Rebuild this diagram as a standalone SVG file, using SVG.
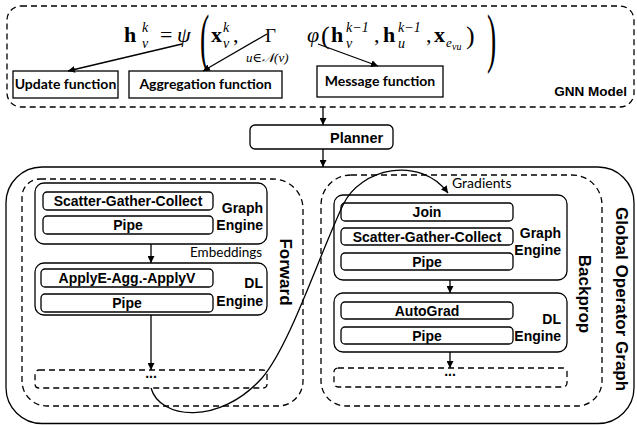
<svg xmlns="http://www.w3.org/2000/svg" width="637" height="425" viewBox="0 0 637 425">
<defs>
<marker id="ah" viewBox="0 0 10 10" refX="10" refY="5" markerWidth="7" markerHeight="7" markerUnits="userSpaceOnUse" orient="auto">
<path d="M0,0 L10,5 L0,10 Z" fill="#000"/>
</marker>
<style>
.box{fill:#fff;stroke:#000;stroke-width:1.3}
.sub{fill:#fff;stroke:#000;stroke-width:1.3}
.dash{fill:none;stroke:#000;stroke-width:1.3;stroke-dasharray:6 4}
.ln{fill:none;stroke:#000;stroke-width:1.3}
.b{font-family:"Liberation Sans",Arial,sans-serif;font-weight:bold;font-size:14px;fill:#000}
.c{text-anchor:middle}
.r{text-anchor:end}
.lb{font-family:Lato,"Liberation Sans",sans-serif;font-weight:bold;font-size:14px;text-anchor:middle}
.lr{font-family:Lato,"Liberation Sans",sans-serif;font-size:14px}
.mb{font-family:"Liberation Serif","DejaVu Serif",serif;font-weight:bold;font-size:22px}
.mi{font-family:"Liberation Serif","DejaVu Serif",serif;font-style:italic;font-size:22px}
.mu{font-family:"Liberation Serif","DejaVu Serif",serif;font-size:22px}
.s{font-family:"Liberation Serif","DejaVu Serif",serif;font-style:italic;font-size:14px}
.rot{font-family:"Liberation Sans",Arial,sans-serif;font-weight:bold;font-size:17px;text-anchor:middle;dominant-baseline:central}
</style>
</defs>

<g id="gnn-model">
<rect class="dash" x="7" y="6" width="627" height="101" rx="14"/>
<text class="b r" x="627" y="96" style="font-size:13.5px">GNN Model</text>
</g>

<g id="formula">
<text class="mb" x="124" y="42">h</text>
<text class="s" x="142" y="32">k</text>
<text class="s" x="142" y="48">v</text>
<text class="mu" x="160" y="42">=</text>
<text class="mi" x="177" y="42">ψ</text>
<text class="mu" transform="translate(200,60) scale(0.42,1)" style="font-size:66px">(</text>
<text class="mb" x="211" y="42">x</text>
<text class="s" x="223" y="32">k</text>
<text class="s" x="223" y="48">v</text>
<text class="mu" x="233" y="42">,</text>
<text class="mu" x="265" y="42" style="font-size:19px">Γ</text>
<text class="s" x="246" y="62" style="font-size:13px">u∈𝒩(v)</text>
<text class="mi" x="307" y="42">φ</text>
<text class="mu" x="321" y="44" style="font-size:26px">(</text>
<text class="mb" x="331" y="42">h</text>
<text class="s" x="346" y="32">k−1</text>
<text class="s" x="346" y="48">v</text>
<text class="mu" x="374" y="42">,</text>
<text class="mb" x="383" y="42">h</text>
<text class="s" x="398" y="32">k−1</text>
<text class="s" x="398" y="48">u</text>
<text class="mu" x="426" y="42">,</text>
<text class="mb" x="434" y="42">x</text>
<text class="s" x="446" y="47" style="font-size:13px">e</text>
<text class="s" x="452" y="50" style="font-size:10px">vu</text>
<text class="mu" x="466" y="44" style="font-size:26px">)</text>
<text class="mu" transform="translate(487,60) scale(0.42,1)" style="font-size:66px">)</text>
</g>

<g id="update-function">
<rect class="box" x="13" y="71" width="105" height="27"/>
<text class="lb" x="65.5" y="89">Update function</text>
</g>
<g id="aggregation-function">
<rect class="box" x="129" y="71" width="153" height="27"/>
<text class="lb" x="205.5" y="89">Aggregation function</text>
</g>
<g id="message-function">
<rect class="box" x="317" y="66" width="126" height="31"/>
<text class="lb" x="380" y="86">Message function</text>
</g>

<g id="planner">
<rect class="box" x="250" y="125" width="143" height="24" rx="5"/>
<text class="b" x="330" y="143" style="font-size:14.5px">Planner</text>
</g>

<g id="global-operator-graph">
<rect class="ln" x="6" y="167" width="628" height="256.5" rx="36"/>
<text class="rot" transform="translate(621,299) rotate(90)">Global Operator Graph</text>
</g>

<g id="forward">
<path class="dash" d="M40,179 H273 A30,30 0 0 1 303,209 V381 A25,25 0 0 1 278,406 H47 A25,25 0 0 1 22,381 V197 A18,18 0 0 1 40,179 Z"/>
<text class="rot" transform="translate(285,272) rotate(90)">Forward</text>
</g>

<g id="forward-graph-engine">
<rect class="box" x="35" y="183" width="232" height="61" rx="9"/>
<rect class="sub" x="43" y="192" width="170" height="18" rx="4"/>
<text class="b c" x="128" y="206">Scatter-Gather-Collect</text>
<rect class="sub" x="43" y="216" width="170" height="18" rx="4"/>
<text class="b c" x="128" y="230">Pipe</text>
<text class="b r" x="263" y="213">Graph</text>
<text class="b r" x="263" y="230">Engine</text>
</g>

<g id="forward-dl-engine">
<rect class="box" x="35" y="263" width="232" height="52" rx="9"/>
<rect class="sub" x="41" y="269" width="172" height="18" rx="4"/>
<text class="b c" x="127" y="283">ApplyE-Agg.-ApplyV</text>
<rect class="sub" x="41" y="294" width="172" height="18" rx="4"/>
<text class="b c" x="127" y="308">Pipe</text>
<text class="b r" x="263" y="288">DL</text>
<text class="b r" x="263" y="306">Engine</text>
</g>

<g id="forward-more">
<rect class="dash" x="35" y="370" width="232" height="18" rx="4"/>
<text class="b c" x="151" y="378">...</text>
</g>

<g id="backprop">
<path class="dash" d="M351,175 H572 A30,30 0 0 1 602,205 V381 A25,25 0 0 1 577,406 H346 A25,25 0 0 1 321,381 V205 A30,30 0 0 1 351,175 Z"/>
<text class="rot" transform="translate(584,294) rotate(90)">Backprop</text>
</g>

<g id="backprop-graph-engine">
<rect class="box" x="334" y="195" width="233" height="85" rx="9"/>
<rect class="sub" x="341" y="203" width="172" height="18" rx="4"/>
<text class="b c" x="427" y="217">Join</text>
<rect class="sub" x="341" y="228" width="172" height="17" rx="4"/>
<text class="b c" x="427" y="242">Scatter-Gather-Collect</text>
<rect class="sub" x="341" y="253" width="172" height="17" rx="4"/>
<text class="b c" x="427" y="267">Pipe</text>
<text class="b r" x="561" y="238">Graph</text>
<text class="b r" x="561" y="255">Engine</text>
</g>

<g id="backprop-dl-engine">
<rect class="box" x="334" y="293" width="233" height="59" rx="9"/>
<rect class="sub" x="341" y="302" width="172" height="17" rx="4"/>
<text class="b c" x="427" y="316">AutoGrad</text>
<rect class="sub" x="341" y="327" width="172" height="17" rx="4"/>
<text class="b c" x="427" y="341">Pipe</text>
<text class="b r" x="561" y="324">DL</text>
<text class="b r" x="561" y="341">Engine</text>
</g>

<g id="backprop-more">
<rect class="dash" x="334" y="368" width="233" height="19" rx="4"/>
<text class="b c" x="450" y="376">...</text>
</g>

<g id="connectors">
<line class="ln" x1="182" y1="44" x2="68" y2="71" marker-end="url(#ah)"/>
<line class="ln" x1="267" y1="34" x2="203" y2="71" marker-end="url(#ah)"/>
<line class="ln" x1="318" y1="44" x2="378" y2="66" marker-end="url(#ah)"/>
<line class="ln" x1="323" y1="107" x2="323" y2="125" marker-end="url(#ah)"/>
<line class="ln" x1="323" y1="149" x2="323" y2="167" marker-end="url(#ah)"/>
<line class="ln" x1="151" y1="244" x2="151" y2="263" marker-end="url(#ah)"/>
<text class="lr" x="190" y="257" style="font-size:13.5px">Embeddings</text>
<line class="ln" x1="151" y1="315" x2="151" y2="370" marker-end="url(#ah)"/>
<line class="ln" x1="450" y1="280" x2="450" y2="293" marker-end="url(#ah)"/>
<line class="ln" x1="450" y1="352" x2="450" y2="368" marker-end="url(#ah)"/>
<path class="ln" d="M151,388 C160,420 220,425 262,378 C290,345 318,258 343,205 C360,168 420,155 448,193" marker-end="url(#ah)"/>
<text class="lr" x="452" y="188">Gradients</text>
</g>
</svg>
